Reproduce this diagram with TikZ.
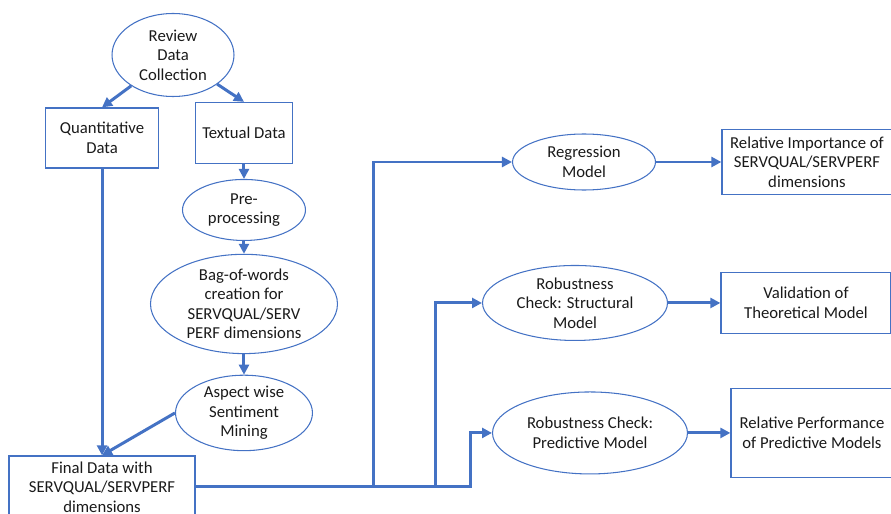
\documentclass[tikz,border=0pt]{standalone}
\usepackage{fontspec}
\setmainfont{Carlito}
\usetikzlibrary{arrows.meta,positioning,shapes.geometric}

\definecolor{flowblue}{HTML}{4472C4}
\definecolor{flowtext}{HTML}{1A1A1A}

\begin{document}
\begin{tikzpicture}
        [x=0.02cm, y=-0.02cm,
        on grid,
        >={Triangle[length=0.2cm, width=0.2cm]},
        every node/.style={font=\fontsize{9.5}{11.1}\selectfont, text=flowtext, align=center},
        stage/.style={ellipse, draw=flowblue, line width=0.6pt, inner sep=0pt},
        data box/.style={rectangle, draw=flowblue, line width=0.7pt, inner sep=0pt},
        flow/.style={->, draw=flowblue, line width=1.7pt}]

        \path[use as bounding box, clip] (0,0) rectangle (891,513);

        \node[stage, minimum width=2.44cm, minimum height=1.66cm] (review) at (173,55) {Review\\Data\\Collection};
        \node[data box, minimum width=2.26cm, minimum height=1.2cm] (quant) [below left=1.66cm and 1.42cm of review] {Quantitative\\Data};
        \node[data box, minimum width=1.94cm, minimum height=1.22cm] (textual) [below right=1.56cm and 1.42cm of review] {Textual Data};
        \node[stage, minimum width=2.46cm, minimum height=1.22cm] (preproc) [below=1.54cm of textual] {Pre-\\processing};
        \node[stage, minimum width=3.74cm, minimum height=1.86cm] (bagwords) [below=1.88cm of preproc] {Bag-of-words\\creation for\\SERVQUAL/SERV\\PERF dimensions};
        \node[stage, minimum width=2.74cm, minimum height=1.42cm] (aspect) [below=2.18cm of bagwords] {Aspect wise\\Sentiment\\Mining};
        \node[data box, minimum width=3.72cm, minimum height=1.24cm] (final) [below=6.98cm of quant] {Final Data with\\SERVQUAL/SERVPERF\\dimensions};

        \node[stage, minimum width=2.86cm, minimum height=1.12cm] (regression) at (584,162) {Regression\\Model};
        \node[stage, minimum width=3.7cm, minimum height=1.5cm] (structural) [below left=2.82cm and 0.18cm of regression] {Robustness\\Check: Structural\\Model};
        \node[stage, minimum width=3.9cm, minimum height=1.64cm] (predictive) [below right=2.6cm and 0.3cm of structural] {Robustness Check:\\Predictive Model};
        \node[data box, minimum width=3.4cm, minimum height=1.3cm] (importance) [right=4.46cm of regression] {Relative Importance of\\SERVQUAL/SERVPERF\\dimensions};
        \node[data box, minimum width=3.4cm, minimum height=1.22cm] (validation) [right=4.62cm of structural] {Validation of\\Theoretical Model};
        \node[data box, minimum width=3.24cm, minimum height=1.78cm] (performance) [right=4.44cm of predictive] {Relative Performance\\of Predictive Models};

        \draw[flow] (review) -- (quant.north);
        \draw[flow] (review) -- (textual.north);
        \draw[flow] (textual) -- (preproc);
        \draw[flow] (preproc) -- (bagwords);
        \draw[flow] (bagwords) -- (aspect);
        \draw[flow] (quant) -- (final);
        \draw[flow] (aspect.west) -- (final.north);

        \draw[flow] (final.east) -| ([xshift=-2.77cm]regression.west) -- (regression.west);
        \draw[flow] (final.east) -| ([xshift=-0.93cm]structural.west) -- (structural.west);
        \draw[flow] (final.east) -| ([xshift=-0.43cm]predictive.west) -- (predictive.west);

        \draw[flow] (regression) -- (importance);
        \draw[flow] (structural) -- (validation);
        \draw[flow] (predictive) -- (performance);
\end{tikzpicture}
\end{document}
